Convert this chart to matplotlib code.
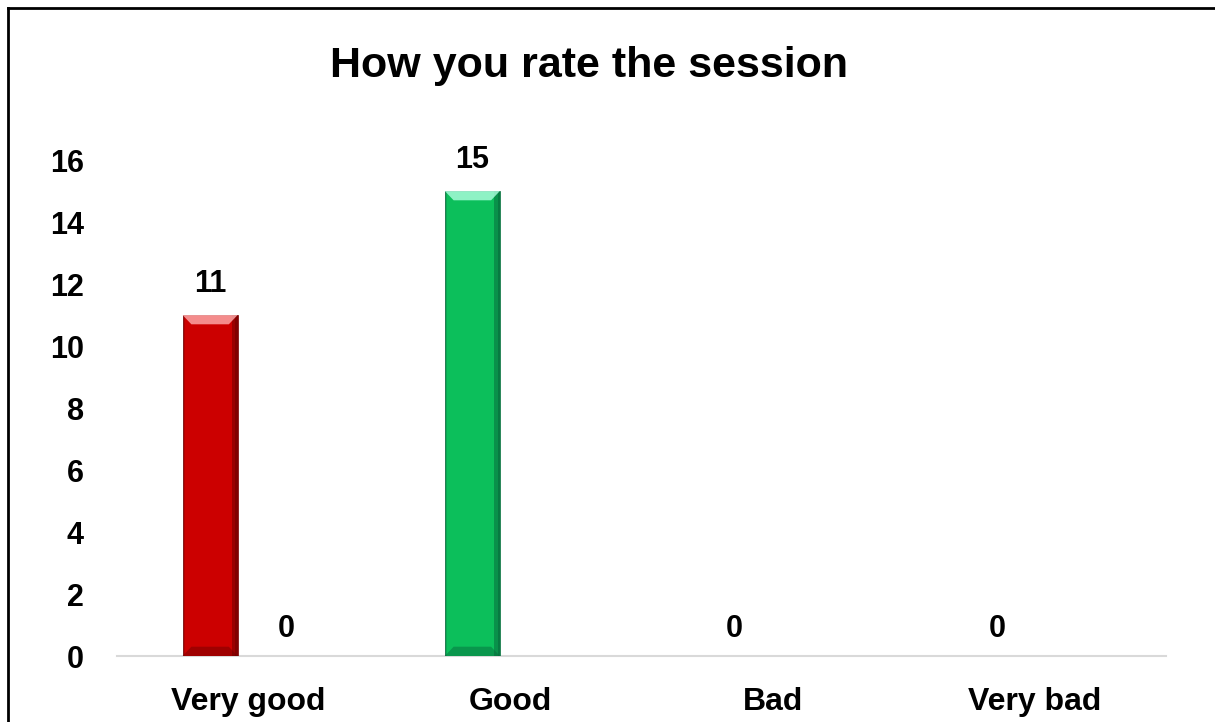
import matplotlib
matplotlib.use("Agg")
import matplotlib.pyplot as plt
from matplotlib.patches import Polygon, Rectangle
from matplotlib.lines import Line2D
import numpy as np

# ---- data ----
title = "How you rate the session"
categories = ["Very good", "Good", "Bad", "Very bad"]
series_a = [11, 15, 0, 0]
series_b = [0, None, None, None]
colors_a = ["#CC0000", "#0CBF5B", "#4472C4", "#ED7D31"]
dark_a = ["#6A0000", "#07643A", "#203864", "#843C0C"]
light_a = ["#FFB0B0", "#B0FFE0", "#B4C7E7", "#F8CBAD"]
yticks = [0, 2, 4, 6, 8, 10, 12, 14, 16]

FONT = ["Liberation Sans Narrow", "Liberation Sans", "DejaVu Sans"]
plt.rcParams["font.family"] = FONT
plt.rcParams["font.weight"] = "bold"

fig = plt.figure(figsize=(12.15, 7.22), dpi=100)
ax = fig.add_axes([117/1215, 66/722, (1166-117)/1215, (656-160)/722])

x = np.arange(len(categories))
width = 0.21
off = 0.145

for xi, v, c, d, l in zip(x, series_a, colors_a, dark_a, light_a):
    if v is None or v <= 0:
        continue
    x0 = xi - off - width/2
    x1 = xi - off + width/2
    ax.bar(xi - off, v, width=width, color=c, edgecolor=d, linewidth=0.5, zorder=3)
    bw = width * 0.16
    bh = 0.3
    ax.add_patch(Rectangle((x1 - width*0.1, 0), width*0.1, v, color=d, alpha=0.5, lw=0, zorder=4))
    ax.add_patch(Rectangle((x1 - width*0.04, 0), width*0.04, v, color=d, alpha=0.5, lw=0, zorder=4))
    ax.add_patch(Rectangle((x0, 0), width*0.04, v, color=d, alpha=0.25, lw=0, zorder=4))
    ax.add_patch(Polygon([(x0, v), (x1, v), (x1 - bw, v - bh), (x0 + bw, v - bh)],
                         closed=True, color=l, alpha=0.8, lw=0, zorder=5))
    ax.add_patch(Polygon([(x0, 0), (x1, 0), (x1 - bw, bh), (x0 + bw, bh)],
                         closed=True, color=d, alpha=0.45, lw=0, zorder=5))

for xi, v in zip(x, series_a):
    if v is not None:
        ax.annotate(str(v), (xi - off, v), xytext=(0, 16.5 if v > 0 else 13.5), textcoords="offset points",
                    ha="center", va="baseline", fontsize=22, fontweight="bold", family=FONT)
for xi, v in zip(x, series_b):
    if v is not None:
        ax.annotate(str(v), (xi + off, v), xytext=(0, 16.5 if v > 0 else 13.5), textcoords="offset points",
                    ha="center", va="baseline", fontsize=22, fontweight="bold", family=FONT)

ax.set_xlim(-0.5, len(categories) - 0.5)
ax.set_ylim(0, 16)
ax.set_yticks(yticks)
ax.set_yticklabels([str(t) for t in yticks], fontsize=22, fontweight="bold")
ax.set_xticks(x)
ax.set_xticklabels(categories, fontsize=23, fontweight="bold")
ax.tick_params(axis="both", length=0)
ax.tick_params(axis="y", pad=24)
ax.tick_params(axis="x", pad=22)
for s in ["top", "right", "left"]:
    ax.spines[s].set_visible(False)
ax.spines["bottom"].set_color("#D9D9D9")
ax.spines["bottom"].set_linewidth(1.5)

fig.text(0.485, 1 - 66/722, title, ha="center", va="center", fontsize=31, fontweight="bold")

# frame lines (left and top)
fig.add_artist(Line2D([7.5/1215, 7.5/1215], [0, 1 - 8/722], color="black", lw=2, transform=fig.transFigure))
fig.add_artist(Line2D([7.5/1215, 1], [1 - 8/722, 1 - 8/722], color="black", lw=2, transform=fig.transFigure))

fig.savefig("out.png", dpi=100)
